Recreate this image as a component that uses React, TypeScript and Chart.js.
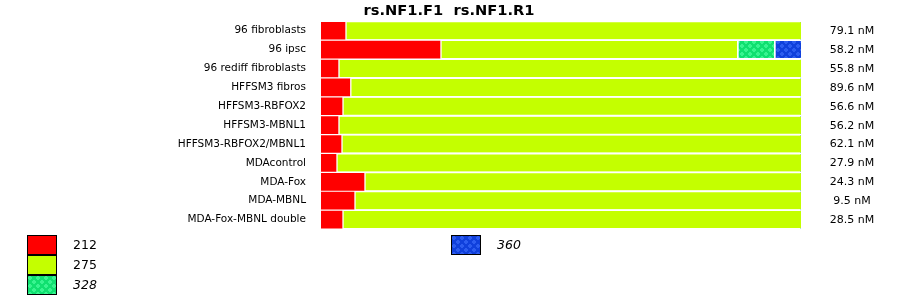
import React, { useEffect, useRef } from 'react';
import { Chart, registerables } from 'chart.js';

Chart.register(...registerables);

const titleText = 'rs.NF1.F1  rs.NF1.R1';

const categories = [
  '96 fibroblasts',
  '96 ipsc',
  '96 rediff fibroblasts',
  'HFFSM3 fibros',
  'HFFSM3-RBFOX2',
  'HFFSM3-MBNL1',
  'HFFSM3-RBFOX2/MBNL1',
  'MDAcontrol',
  'MDA-Fox',
  'MDA-MBNL',
  'MDA-Fox-MBNL double',
];

const concentrations = [
  '79.1 nM', '58.2 nM', '55.8 nM', '89.6 nM', '56.6 nM', '56.2 nM',
  '62.1 nM', '27.9 nM', '24.3 nM', '9.5 nM', '28.5 nM',
];

// allele fractions (percent of each bar)
const allele212 = [5.0, 24.79, 3.54, 6.0, 4.38, 3.54, 4.17, 3.13, 8.96, 6.88, 4.38];
const allele275 = [95.0, 61.88, 96.46, 94.0, 95.62, 96.46, 95.83, 96.87, 91.04, 93.12, 95.62];
const allele328 = [0, 7.71, 0, 0, 0, 0, 0, 0, 0, 0, 0];
const allele360 = [0, 5.62, 0, 0, 0, 0, 0, 0, 0, 0, 0];

const legendLabels = ['212', '275', '328', '360'];
const legendItalic = [false, false, true, true];

function makePattern(base: string, dot: string): CanvasPattern | string {
  const c = document.createElement('canvas');
  c.width = 8;
  c.height = 8;
  const g = c.getContext('2d');
  if (!g) return base;
  g.fillStyle = base;
  g.fillRect(0, 0, 8, 8);
  g.fillStyle = dot;
  const dotAt = (x: number, y: number) => {
    g.fillRect(x + 1, y, 2, 4);
    g.fillRect(x, y + 1, 4, 2);
  };
  dotAt(0, 0);
  dotAt(4, 4);
  const p = g.createPattern(c, 'repeat');
  return p || base;
}

const FONT = '"DejaVu Sans", Verdana, sans-serif';

export default function App() {
  const ref = useRef<HTMLCanvasElement | null>(null);

  useEffect(() => {
    const canvas = ref.current;
    if (!canvas) return;
    const tealPat = makePattern('#10e070', '#38f490');
    const bluePat = makePattern('#1040dc', '#2c5cf0');
    const fills: (string | CanvasPattern)[] = ['#ff0000', '#c4ff00', tealPat, bluePat];

    const sep = { left: 2, right: 0, top: 0, bottom: 0 };

    const overlay = {
      id: 'overlay',
      afterDraw(chart: any) {
        const ctx = chart.ctx as CanvasRenderingContext2D;
        const yScale = chart.scales.y;
        ctx.save();
        // title
        ctx.fillStyle = '#000';
        ctx.font = `bold 14.67px ${FONT}`;
        ctx.textAlign = 'center';
        ctx.textBaseline = 'alphabetic';
        ctx.fillText(titleText, 449, 15);
        // right labels
        ctx.font = `11px ${FONT}`;
        ctx.textBaseline = 'middle';
        ctx.textAlign = 'center';
        concentrations.forEach((t, i) => {
          ctx.fillText(t, 852, yScale.getPixelForValue(i) + 0.5);
        });
        // legend
        const boxes = [
          { x: 27, y: 235 },
          { x: 27, y: 255 },
          { x: 27, y: 275 },
          { x: 451, y: 235 },
        ];
        boxes.forEach((b, i) => {
          ctx.fillStyle = fills[i] as any;
          ctx.fillRect(b.x, b.y, 30, 20);
          ctx.strokeStyle = '#000';
          ctx.lineWidth = 1;
          ctx.strokeRect(b.x + 0.5, b.y + 0.5, 29, 19);
          ctx.fillStyle = '#000';
          ctx.font = `${legendItalic[i] ? 'italic ' : ''}12.5px ${FONT}`;
          ctx.textAlign = 'left';
          ctx.textBaseline = 'middle';
          ctx.fillText(legendLabels[i], b.x + 46, b.y + 11);
        });
        ctx.restore();
      },
    };

    const chart = new Chart(canvas, {
      type: 'bar',
      data: {
        labels: categories,
        datasets: [
          { label: legendLabels[0], data: allele212, backgroundColor: fills[0] as any, borderWidth: 0 },
          { label: legendLabels[1], data: allele275, backgroundColor: fills[1] as any, borderColor: '#ffffff', borderWidth: sep, borderSkipped: false },
          { label: legendLabels[2], data: allele328, backgroundColor: fills[2] as any, borderColor: '#ffffff', borderWidth: sep, borderSkipped: false },
          { label: legendLabels[3], data: allele360, backgroundColor: fills[3] as any, borderColor: '#ffffff', borderWidth: sep, borderSkipped: false },
        ],
      },
      options: {
        indexAxis: 'y',
        responsive: false,
        maintainAspectRatio: false,
        animation: false,
        devicePixelRatio: 1,
        layout: { padding: { left: 0, right: 99, top: 20, bottom: 70 } },
        datasets: { bar: { barThickness: 17, categoryPercentage: 1, barPercentage: 1 } },
        plugins: {
          legend: { display: false },
          tooltip: { enabled: false },
          title: { display: false },
        },
        scales: {
          x: { stacked: true, min: 0, max: 100, display: false },
          y: {
            stacked: true,
            grid: { display: false, drawTicks: false },
            border: { display: false },
            ticks: {
              color: '#000',
              padding: 15,
              font: { family: FONT, size: 10.5 },
              autoSkip: false,
            },
            afterFit(scale: any) {
              scale.width = 321;
            },
          },
        },
      } as any,
      plugins: [overlay],
    });
    return () => chart.destroy();
  }, []);

  return (
    <div style={{ position: 'absolute', left: 0, top: 0, width: 900, height: 299, background: '#fff' }}>
      <canvas ref={ref} width={900} height={299} style={{ display: 'block', width: 900, height: 299 }} />
    </div>
  );
}
